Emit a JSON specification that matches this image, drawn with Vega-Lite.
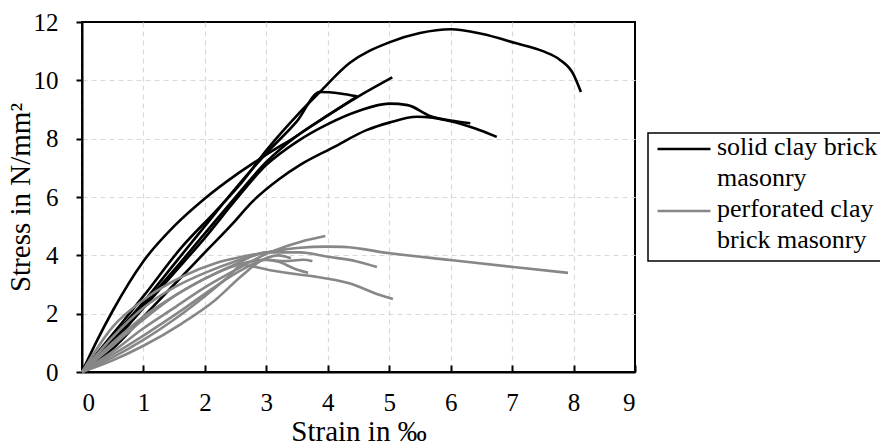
{
  "$schema": "https://vega.github.io/schema/vega-lite/v6.json",
  "width": 553,
  "height": 350,
  "autosize": {"type": "none"},
  "padding": {"left": 82, "top": 22, "right": 245, "bottom": 73},
  "background": "white",
  "data": {
    "values": [
      {"s": "S1", "t": "solid", "x": 0, "y": 0}, {"s": "S1", "t": "solid", "x": 0.5, "y": 1.3}, {"s": "S1", "t": "solid", "x": 1, "y": 2.6}, {"s": "S1", "t": "solid", "x": 1.63, "y": 4.3}, {"s": "S1", "t": "solid", "x": 2.17, "y": 5.5}, {"s": "S1", "t": "solid", "x": 2.6, "y": 6.5}, {"s": "S1", "t": "solid", "x": 3.0, "y": 7.6}, {"s": "S1", "t": "solid", "x": 3.5, "y": 8.8}, {"s": "S1", "t": "solid", "x": 3.87, "y": 9.6}, {"s": "S1", "t": "solid", "x": 4.36, "y": 10.6}, {"s": "S1", "t": "solid", "x": 5.0, "y": 11.3}, {"s": "S1", "t": "solid", "x": 5.5, "y": 11.62}, {"s": "S1", "t": "solid", "x": 6.0, "y": 11.75}, {"s": "S1", "t": "solid", "x": 6.5, "y": 11.6}, {"s": "S1", "t": "solid", "x": 7.07, "y": 11.27}, {"s": "S1", "t": "solid", "x": 7.5, "y": 11.0}, {"s": "S1", "t": "solid", "x": 7.78, "y": 10.7}, {"s": "S1", "t": "solid", "x": 7.99, "y": 10.24}, {"s": "S1", "t": "solid", "x": 8.12, "y": 9.6},
      {"s": "S2", "t": "solid", "x": 0, "y": 0}, {"s": "S2", "t": "solid", "x": 0.25, "y": 1.1}, {"s": "S2", "t": "solid", "x": 0.5, "y": 2.1}, {"s": "S2", "t": "solid", "x": 1, "y": 3.8}, {"s": "S2", "t": "solid", "x": 1.5, "y": 5.0}, {"s": "S2", "t": "solid", "x": 2, "y": 5.95}, {"s": "S2", "t": "solid", "x": 2.5, "y": 6.75}, {"s": "S2", "t": "solid", "x": 3, "y": 7.45}, {"s": "S2", "t": "solid", "x": 3.5, "y": 8.1}, {"s": "S2", "t": "solid", "x": 4, "y": 8.8}, {"s": "S2", "t": "solid", "x": 4.5, "y": 9.45}, {"s": "S2", "t": "solid", "x": 5.05, "y": 10.1},
      {"s": "S3", "t": "solid", "x": 0, "y": 0}, {"s": "S3", "t": "solid", "x": 0.5, "y": 1.2}, {"s": "S3", "t": "solid", "x": 1, "y": 2.4}, {"s": "S3", "t": "solid", "x": 1.5, "y": 3.7}, {"s": "S3", "t": "solid", "x": 2, "y": 5.0}, {"s": "S3", "t": "solid", "x": 2.5, "y": 6.3}, {"s": "S3", "t": "solid", "x": 3, "y": 7.5}, {"s": "S3", "t": "solid", "x": 3.5, "y": 8.6}, {"s": "S3", "t": "solid", "x": 3.87, "y": 9.6}, {"s": "S3", "t": "solid", "x": 4.2, "y": 9.55}, {"s": "S3", "t": "solid", "x": 4.48, "y": 9.45},
      {"s": "S4", "t": "solid", "x": 0, "y": 0}, {"s": "S4", "t": "solid", "x": 0.5, "y": 1.1}, {"s": "S4", "t": "solid", "x": 1, "y": 2.3}, {"s": "S4", "t": "solid", "x": 1.5, "y": 3.5}, {"s": "S4", "t": "solid", "x": 2, "y": 4.75}, {"s": "S4", "t": "solid", "x": 2.5, "y": 6.0}, {"s": "S4", "t": "solid", "x": 3, "y": 7.2}, {"s": "S4", "t": "solid", "x": 3.5, "y": 8.1}, {"s": "S4", "t": "solid", "x": 4, "y": 8.8}, {"s": "S4", "t": "solid", "x": 4.48, "y": 9.45},
      {"s": "S5", "t": "solid", "x": 0, "y": 0}, {"s": "S5", "t": "solid", "x": 0.5, "y": 1.0}, {"s": "S5", "t": "solid", "x": 1, "y": 2.2}, {"s": "S5", "t": "solid", "x": 1.5, "y": 3.4}, {"s": "S5", "t": "solid", "x": 2, "y": 4.6}, {"s": "S5", "t": "solid", "x": 2.5, "y": 5.9}, {"s": "S5", "t": "solid", "x": 3, "y": 7.1}, {"s": "S5", "t": "solid", "x": 3.5, "y": 7.9}, {"s": "S5", "t": "solid", "x": 4, "y": 8.5}, {"s": "S5", "t": "solid", "x": 4.5, "y": 8.95}, {"s": "S5", "t": "solid", "x": 5.0, "y": 9.2}, {"s": "S5", "t": "solid", "x": 5.3, "y": 9.15}, {"s": "S5", "t": "solid", "x": 5.66, "y": 8.78}, {"s": "S5", "t": "solid", "x": 6.0, "y": 8.62}, {"s": "S5", "t": "solid", "x": 6.32, "y": 8.53},
      {"s": "S6", "t": "solid", "x": 0, "y": 0}, {"s": "S6", "t": "solid", "x": 0.5, "y": 0.8}, {"s": "S6", "t": "solid", "x": 1, "y": 1.9}, {"s": "S6", "t": "solid", "x": 1.5, "y": 3.0}, {"s": "S6", "t": "solid", "x": 2, "y": 4.1}, {"s": "S6", "t": "solid", "x": 2.5, "y": 5.2}, {"s": "S6", "t": "solid", "x": 2.73, "y": 5.75}, {"s": "S6", "t": "solid", "x": 3.2, "y": 6.6}, {"s": "S6", "t": "solid", "x": 3.55, "y": 7.1}, {"s": "S6", "t": "solid", "x": 4.09, "y": 7.7}, {"s": "S6", "t": "solid", "x": 4.64, "y": 8.3}, {"s": "S6", "t": "solid", "x": 5.0, "y": 8.55}, {"s": "S6", "t": "solid", "x": 5.45, "y": 8.75}, {"s": "S6", "t": "solid", "x": 6.0, "y": 8.6}, {"s": "S6", "t": "solid", "x": 6.4, "y": 8.35}, {"s": "S6", "t": "solid", "x": 6.75, "y": 8.06},
      {"s": "P1", "t": "perforated", "x": 0, "y": 0}, {"s": "P1", "t": "perforated", "x": 0.5, "y": 1.2}, {"s": "P1", "t": "perforated", "x": 1, "y": 2.2}, {"s": "P1", "t": "perforated", "x": 1.5, "y": 2.9}, {"s": "P1", "t": "perforated", "x": 2, "y": 3.4}, {"s": "P1", "t": "perforated", "x": 2.5, "y": 3.8}, {"s": "P1", "t": "perforated", "x": 3, "y": 4.1}, {"s": "P1", "t": "perforated", "x": 3.5, "y": 4.25}, {"s": "P1", "t": "perforated", "x": 4.0, "y": 4.3}, {"s": "P1", "t": "perforated", "x": 4.25, "y": 4.29}, {"s": "P1", "t": "perforated", "x": 5.01, "y": 4.07}, {"s": "P1", "t": "perforated", "x": 5.99, "y": 3.84}, {"s": "P1", "t": "perforated", "x": 7.02, "y": 3.6}, {"s": "P1", "t": "perforated", "x": 7.91, "y": 3.4},
      {"s": "P2", "t": "perforated", "x": 0, "y": 0}, {"s": "P2", "t": "perforated", "x": 0.5, "y": 0.7}, {"s": "P2", "t": "perforated", "x": 1, "y": 1.5}, {"s": "P2", "t": "perforated", "x": 1.5, "y": 2.2}, {"s": "P2", "t": "perforated", "x": 2, "y": 2.9}, {"s": "P2", "t": "perforated", "x": 2.5, "y": 3.5}, {"s": "P2", "t": "perforated", "x": 3, "y": 4.05}, {"s": "P2", "t": "perforated", "x": 3.55, "y": 4.46}, {"s": "P2", "t": "perforated", "x": 3.96, "y": 4.66},
      {"s": "P3", "t": "perforated", "x": 0, "y": 0}, {"s": "P3", "t": "perforated", "x": 0.5, "y": 0.9}, {"s": "P3", "t": "perforated", "x": 1, "y": 1.8}, {"s": "P3", "t": "perforated", "x": 1.5, "y": 2.6}, {"s": "P3", "t": "perforated", "x": 2, "y": 3.2}, {"s": "P3", "t": "perforated", "x": 2.5, "y": 3.7}, {"s": "P3", "t": "perforated", "x": 3.0, "y": 4.1}, {"s": "P3", "t": "perforated", "x": 3.55, "y": 4.1}, {"s": "P3", "t": "perforated", "x": 4.0, "y": 3.95}, {"s": "P3", "t": "perforated", "x": 4.46, "y": 3.8}, {"s": "P3", "t": "perforated", "x": 4.8, "y": 3.6},
      {"s": "P4", "t": "perforated", "x": 0, "y": 0}, {"s": "P4", "t": "perforated", "x": 0.5, "y": 0.5}, {"s": "P4", "t": "perforated", "x": 1, "y": 1.1}, {"s": "P4", "t": "perforated", "x": 1.5, "y": 1.8}, {"s": "P4", "t": "perforated", "x": 2, "y": 2.6}, {"s": "P4", "t": "perforated", "x": 2.4, "y": 3.3}, {"s": "P4", "t": "perforated", "x": 2.6, "y": 3.67}, {"s": "P4", "t": "perforated", "x": 3.04, "y": 3.5}, {"s": "P4", "t": "perforated", "x": 3.5, "y": 3.35}, {"s": "P4", "t": "perforated", "x": 3.8, "y": 3.27}, {"s": "P4", "t": "perforated", "x": 4.35, "y": 3.04}, {"s": "P4", "t": "perforated", "x": 4.85, "y": 2.64}, {"s": "P4", "t": "perforated", "x": 5.06, "y": 2.5},
      {"s": "P5", "t": "perforated", "x": 0, "y": 0}, {"s": "P5", "t": "perforated", "x": 0.5, "y": 1.0}, {"s": "P5", "t": "perforated", "x": 1, "y": 1.9}, {"s": "P5", "t": "perforated", "x": 1.5, "y": 2.6}, {"s": "P5", "t": "perforated", "x": 2, "y": 3.2}, {"s": "P5", "t": "perforated", "x": 2.5, "y": 3.65}, {"s": "P5", "t": "perforated", "x": 2.95, "y": 3.85}, {"s": "P5", "t": "perforated", "x": 3.2, "y": 3.78}, {"s": "P5", "t": "perforated", "x": 3.45, "y": 3.55}, {"s": "P5", "t": "perforated", "x": 3.68, "y": 3.4},
      {"s": "P6", "t": "perforated", "x": 0, "y": 0}, {"s": "P6", "t": "perforated", "x": 0.5, "y": 1.55}, {"s": "P6", "t": "perforated", "x": 1, "y": 2.47}, {"s": "P6", "t": "perforated", "x": 1.63, "y": 3.27}, {"s": "P6", "t": "perforated", "x": 2.17, "y": 3.73}, {"s": "P6", "t": "perforated", "x": 2.6, "y": 3.95}, {"s": "P6", "t": "perforated", "x": 3.0, "y": 4.1}, {"s": "P6", "t": "perforated", "x": 3.3, "y": 4.2},
      {"s": "P7", "t": "perforated", "x": 0, "y": 0}, {"s": "P7", "t": "perforated", "x": 0.5, "y": 0.4}, {"s": "P7", "t": "perforated", "x": 1, "y": 0.9}, {"s": "P7", "t": "perforated", "x": 1.63, "y": 1.67}, {"s": "P7", "t": "perforated", "x": 2.17, "y": 2.47}, {"s": "P7", "t": "perforated", "x": 2.6, "y": 3.3}, {"s": "P7", "t": "perforated", "x": 2.9, "y": 3.8}, {"s": "P7", "t": "perforated", "x": 3.2, "y": 4.0}, {"s": "P7", "t": "perforated", "x": 3.4, "y": 3.9},
      {"s": "P8", "t": "perforated", "x": 0, "y": 0}, {"s": "P8", "t": "perforated", "x": 0.5, "y": 0.6}, {"s": "P8", "t": "perforated", "x": 1, "y": 1.25}, {"s": "P8", "t": "perforated", "x": 1.63, "y": 2.13}, {"s": "P8", "t": "perforated", "x": 2.17, "y": 2.93}, {"s": "P8", "t": "perforated", "x": 2.6, "y": 3.5}, {"s": "P8", "t": "perforated", "x": 3.0, "y": 3.85}, {"s": "P8", "t": "perforated", "x": 3.3, "y": 3.8}, {"s": "P8", "t": "perforated", "x": 3.6, "y": 3.85}, {"s": "P8", "t": "perforated", "x": 3.75, "y": 3.8}
    ]
  },
  "mark": {"type": "line", "strokeWidth": 2.6, "interpolate": "monotone"},
  "encoding": {
    "x": {
      "field": "x", "type": "quantitative",
      "scale": {"domain": [0, 9], "nice": false},
      "axis": {
        "title": "Strain in ‰", "values": [0,1,2,3,4,5,6,7,8,9],
        "tickSize": -7, "labelPadding": 25, "titlePadding": 2,
        "gridColor": {"condition": {"test": "datum.value == 9", "value": "transparent"}, "value": "#d9d9d9"}
      }
    },
    "y": {
      "field": "y", "type": "quantitative",
      "scale": {"domain": [0, 12], "nice": false},
      "axis": {
        "title": "Stress in N/mm²", "values": [0,2,4,6,8,10,12],
        "tickSize": 6, "labelPadding": 18, "titlePadding": -2,
        "gridColor": {"condition": {"test": "datum.value == 12", "value": "transparent"}, "value": "#d9d9d9"}
      }
    },
    "detail": {"field": "s"},
    "color": {
      "field": "t", "type": "nominal",
      "scale": {"domain": ["solid", "perforated"], "range": ["#000000", "#878787"]},
      "legend": {
        "title": null,
        "orient": "none", "legendX": 566, "legendY": 111,
        "labelExpr": "datum.label == 'solid' ? ['solid clay brick', 'masonry'] : ['perforated clay', 'brick masonry']",
        "symbolType": "stroke", "symbolSize": 2809, "symbolStrokeWidth": 2.6,
        "labelFont": "Liberation Serif", "labelFontSize": 26, "labelColor": "black",
        "labelLimit": 400, "labelOffset": 5, "labelBaseline": "top",
        "strokeColor": "black", "padding": 8, "rowPadding": 5,
        "encode": {
          "labels": {"update": {"lineHeight": {"value": 31}, "y": {"value": -7}, "baseline": {"value": "top"}}},
          "symbols": {"update": {"y": {"value": 8}}}
        }
      }
    }
  },
  "config": {
    "font": "Liberation Serif",
    "view": {"stroke": "black", "strokeWidth": 2},
    "axis": {
      "labelFont": "Liberation Serif", "labelFontSize": 25, "labelColor": "black",
      "titleFont": "Liberation Serif", "titleFontSize": 29, "titleFontWeight": "normal", "titleColor": "black",
      "domainColor": "black", "domainWidth": 2, "tickColor": "black", "tickWidth": 2,
      "gridDash": [5, 4], "gridWidth": 1.2
    },
    "legend": {"strokeWidth": 1.5}
  }
}
